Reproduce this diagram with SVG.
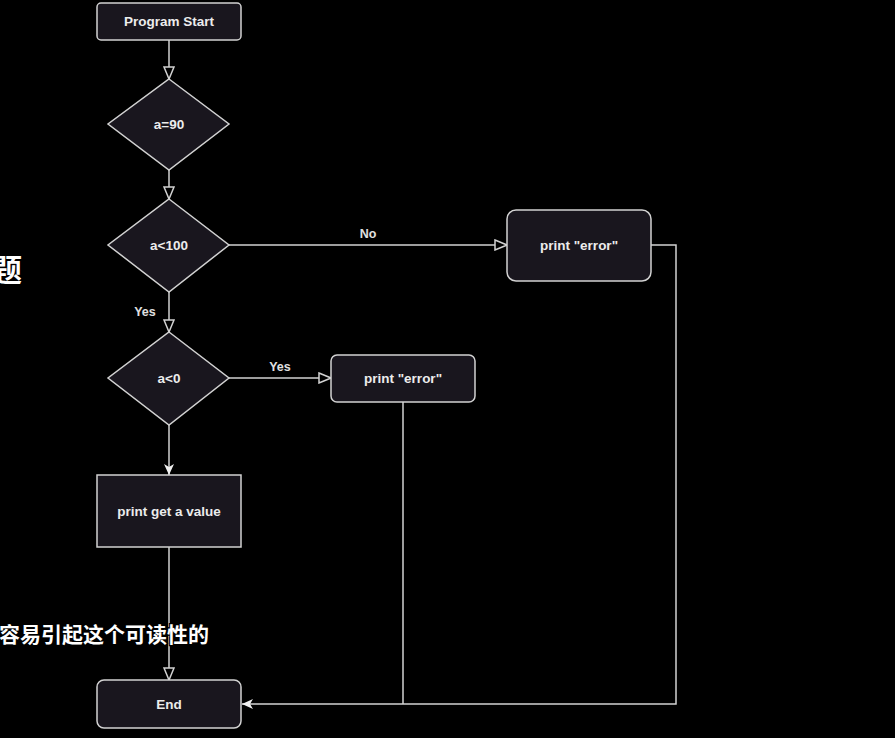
<svg xmlns="http://www.w3.org/2000/svg" width="895" height="738" viewBox="0 0 895 738">
<style>
.n{fill:#19161e;stroke:#d2d2d2;stroke-width:1.5}
.t{font-family:"Liberation Sans",Arial,sans-serif;font-weight:bold;font-size:13.5px;fill:#ececec;text-anchor:middle;dominant-baseline:central}
.l{font-family:"Liberation Sans",Arial,sans-serif;font-weight:bold;font-size:12.5px;fill:#e0e0e0;text-anchor:middle}
.e{fill:none;stroke:#d2d2d2;stroke-width:1.5}
.cn{font-family:"Noto Sans CJK SC",sans-serif;font-weight:bold;fill:#ffffff;stroke:#000;stroke-width:2.5;paint-order:stroke}
</style>
<defs>
<marker id="open" markerWidth="14" markerHeight="12" refX="13" refY="6" orient="auto" markerUnits="userSpaceOnUse">
<path d="M1,1 L13,6 L1,11 Z" fill="#000" stroke="#d2d2d2" stroke-width="1.5"/>
</marker>
<marker id="classic" markerWidth="12" markerHeight="10" refX="11" refY="5" orient="auto" markerUnits="userSpaceOnUse">
<path d="M0,0 L11,5 L0,10 L3,5 Z" fill="#f0f0f0"/>
</marker>
</defs>
<rect width="895" height="738" fill="#000"/>
<g id="connectors">
<path class="e" d="M169,40 V79" marker-end="url(#open)"/>
<path class="e" d="M169,170 V199" marker-end="url(#open)"/>
<path class="e" d="M229,245 H507" marker-end="url(#open)"/>
<path class="e" d="M169,292 V332" marker-end="url(#open)"/>
<path class="e" d="M229,378 H331" marker-end="url(#open)"/>
<path class="e" d="M169,425 V475" marker-end="url(#classic)"/>
<path class="e" d="M169,547 V680" marker-end="url(#open)"/>
<path class="e" d="M651,245 H676 V704 H242" marker-end="url(#classic)"/>
<path class="e" d="M403,402 V704"/>
<text class="l" x="368" y="238">No</text>
<text class="l" x="145" y="316">Yes</text>
<text class="l" x="280" y="371">Yes</text>
</g>
<g id="start"><rect class="n" x="97" y="3" width="144" height="37" rx="4"/><text class="t" x="169" y="21.5">Program Start</text></g>
<g id="d1"><path class="n" d="M169,79 L229,124 L169,170 L108,124 Z"/><text class="t" x="169" y="124">a=90</text></g>
<g id="d2"><path class="n" d="M169,199 L229,245 L169,292 L108,245 Z"/><text class="t" x="169" y="245">a&lt;100</text></g>
<g id="err1"><rect class="n" x="507" y="210" width="144" height="71" rx="9"/><text class="t" x="579" y="245">print "error"</text></g>
<g id="d3"><path class="n" d="M169,332 L229,378 L169,425 L108,378 Z"/><text class="t" x="169" y="378">a&lt;0</text></g>
<g id="err2"><rect class="n" x="331" y="355" width="144" height="47" rx="6"/><text class="t" x="403" y="378.5">print "error"</text></g>
<g id="val"><rect class="n" x="97" y="475" width="144" height="72"/><text class="t" x="169" y="511">print get a value</text></g>
<g id="end"><rect class="n" x="97" y="680" width="144" height="48" rx="7"/><text class="t" x="169" y="704">End</text></g>
<text class="cn" x="22" y="281" font-size="31" text-anchor="end">题</text>
<text class="cn" x="209" y="642" font-size="21" text-anchor="end">容易引起这个可读性的</text>
</svg>
